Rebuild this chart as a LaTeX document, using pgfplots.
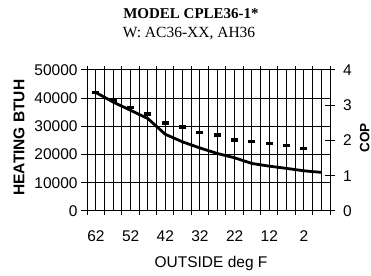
\documentclass[border=0pt]{standalone}
\usepackage{fontspec}
\setmainfont{Liberation Serif}
\setsansfont{Liberation Sans}
\usepackage{pgfplots}
\pgfplotsset{compat=1.18}
\newcommand{\tk}{\fontsize{15.5}{18}\selectfont\sffamily}
\begin{document}
\begin{tikzpicture}
\useasboundingbox (-87.3pt,-64pt) rectangle (283.7pt,211pt);
\begin{axis}[
  at={(0,0)}, anchor=south west,
  scale only axis, width=242.7pt, height=141pt,
  xmin=-5.5, xmax=64.5, x dir=reverse,
  ymin=0, ymax=50000,
  axis line style={black, line width=1pt},
  tick style={black, line width=1pt},
  major tick length=6pt,
  xtick={-5.5,-3,-0.5,2,4.5,7,9.5,12,14.5,17,19.5,22,24.5,27,29.5,32,34.5,37,39.5,42,44.5,47,49.5,52,54.5,57,59.5,62,64.5},
  xticklabels={,,,2,,,,12,,,,22,,,,32,,,,42,,,,52,,,,62,},
  ymajorgrids=true,
  grid style={black, line width=1pt},
  xtick align=inside,
  extra x ticks={-5.5,-0.5,4.5,9.5,14.5,19.5,24.5,29.5,34.5,39.5,44.5,49.5,54.5,59.5,64.5},
  extra x tick labels={},
  extra x tick style={tick align=outside, major tick length=4pt},
  xticklabel style={font=\tk, inner sep=0pt, yshift=-19pt, anchor=north},
  ytick={0,10000,20000,30000,40000,50000},
  yticklabels={0,10000,20000,30000,40000,50000},
  scaled y ticks=false,
  ytick align=outside,
  ytick pos=left,
  yticklabel style={font=\tk, inner sep=0pt, xshift=-3.5pt, anchor=east},
  /pgf/number format/assume math mode=true,
  clip=false,
]
\addplot[ycomb, black, line width=1pt, mark=none, forget plot] coordinates {
(-5.5,50000)(-3,50000)(-0.5,50000)(2,50000)(4.5,50000)(7,50000)(9.5,50000)(12,50000)(14.5,50000)(17,50000)(19.5,50000)(22,50000)(24.5,50000)(27,50000)(29.5,50000)(32,50000)(34.5,50000)(37,50000)(39.5,50000)(42,50000)(44.5,50000)(47,50000)(49.5,50000)(52,50000)(54.5,50000)(57,50000)(59.5,50000)(62,50000)(64.5,50000)};
\addplot[black, line width=2.8pt, line join=round] coordinates {
(62,42000)(57,38600)(52,35700)(47,32750)(42,27200)(37,24500)(32,22350)(27,20400)(22,18850)(17,16850)(12,15900)(7,15100)(2,14250)(-3,13700)};
\node[anchor=base, font=\fontsize{15}{18}\selectfont\bfseries] at (axis description cs:0.4273,1.365) {MODEL CPLE36-1*};
\node[anchor=base, font=\fontsize{15.5}{18}\selectfont] at (axis description cs:0.419,1.234) {W: AC36-XX, AH36};
\node[anchor=base, font=\tk] at (axis description cs:0.5097,-0.399) {OUTSIDE deg F};
\node[anchor=center, rotate=90, font=\fontsize{15.5}{18}\selectfont\sffamily\bfseries] at (axis description cs:-0.2814,0.5206) {HEATING BTUH};
\node[anchor=center, rotate=90, font=\fontsize{13.5}{18}\selectfont\sffamily\bfseries] at (axis description cs:1.143,0.518) {COP};
\end{axis}
\begin{axis}[
  at={(0,0)}, anchor=south west,
  scale only axis, width=242.7pt, height=141pt,
  xmin=-5.5, xmax=64.5, x dir=reverse,
  ymin=0, ymax=4,
  axis x line=none,
  axis y line*=right,
  axis line style={black, line width=1pt},
  ytick={0,1,2,3,4},
  ytick align=center,
  major tick length=10pt,
  y tick style={black, line width=1pt},
  yticklabel style={font=\tk, inner sep=0pt, anchor=west, xshift=8pt},
  /pgf/number format/assume math mode=true,
  clip=false,
]
\addplot[only marks, mark=-, mark size=3.5pt, mark options={line width=3.5pt, black}] coordinates {
(62,3.36)(57,3.15)(52,2.94)(47,2.75)(42,2.50)(37,2.39)(32,2.23)(27,2.16)(22,2.01)(17,1.97)(12,1.92)(7,1.86)(2,1.78)};
\end{axis}
\end{tikzpicture}
\end{document}
